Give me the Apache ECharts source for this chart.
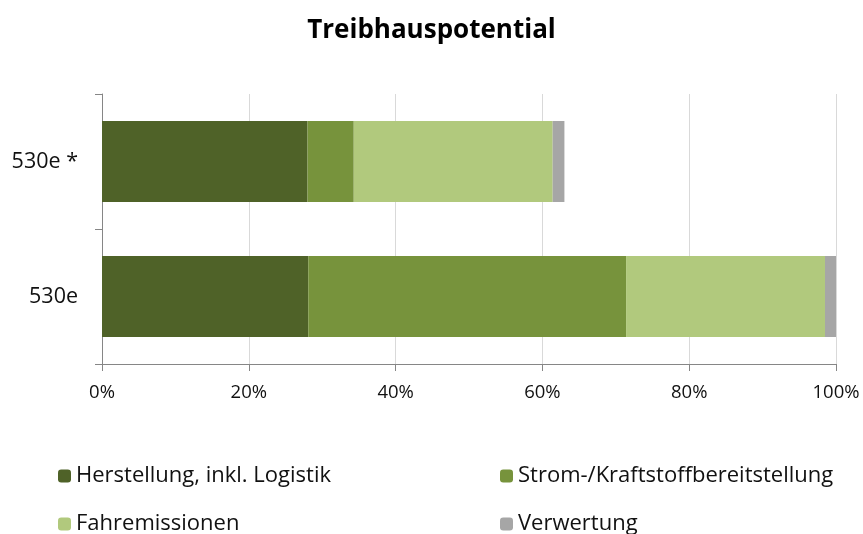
<!DOCTYPE html>
<html>
<head>
  <meta charset="utf-8">
  <script src="https://cdn.jsdelivr.net/npm/echarts@6/dist/echarts.min.js"></script>
  <style>
    html, body { margin: 0; padding: 0; background: #fff; }
    #main { width: 863px; height: 534px; }
  </style>
</head>
<body>
  <div id="main"></div>
  <script>
    // categories from bottom to top
    var categories = ['530e', '530e *'];
    var herstellung = [28.1, 28.0];
    var strom = [43.3, 6.3];
    var fahremissionen = [27.1, 27.1];
    var verwertung = [1.5, 1.6];
    var xTicks = [0, 20, 40, 60, 80, 100];

    var font = 'Open Sans';
    var chart = echarts.init(document.getElementById('main'));

    function bar(name, data, color) {
      return {
        name: name,
        type: 'bar',
        stack: 'total',
        barWidth: '60%',
        itemStyle: {color: color},
        emphasis: {disabled: true},
        data: data
      };
    }

    // one legend per item, laid out in two columns like the original
    function legendItem(name, left, top) {
      return {
        left: left,
        top: top,
        itemWidth: 13,
        itemHeight: 13,
        itemGap: 0,
        itemStyle: {borderWidth: 0},
        textStyle: {fontFamily: font, fontSize: 22, color: '#111'},
        data: [name]
      };
    }

    var option = {
      animation: false,
      title: {
        text: 'Treibhauspotential',
        left: 'center',
        top: 13,
        textStyle: {fontFamily: font, fontSize: 26, fontWeight: 'bold', color: '#000'}
      },
      legend: [
        legendItem('Herstellung, inkl. Logistik', 53, 460),
        legendItem('Strom-/Kraftstoffbereitstellung', 495, 460),
        legendItem('Fahremissionen', 53, 508),
        legendItem('Verwertung', 495, 508)
      ],
      grid: {left: 102, right: 27, top: 94, bottom: 170, containLabel: false},
      xAxis: {
        type: 'value',
        min: xTicks[0],
        max: xTicks[xTicks.length - 1],
        interval: xTicks[1] - xTicks[0],
        axisLine: {show: true, lineStyle: {color: '#868686'}},
        axisTick: {show: true, length: 7, lineStyle: {color: '#868686'}},
        splitLine: {show: true, lineStyle: {color: '#d9d9d9'}},
        axisLabel: {
          formatter: '{value}%',
          margin: 19,
          fontFamily: font,
          fontSize: 18.5,
          color: '#111'
        }
      },
      yAxis: {
        type: 'category',
        data: categories,
        axisLine: {show: true, lineStyle: {color: '#868686'}},
        axisTick: {show: true, length: 7, lineStyle: {color: '#868686'}},
        axisLabel: {margin: 24, fontFamily: font, fontSize: 21.5, color: '#111'}
      },
      series: [
        bar('Herstellung, inkl. Logistik', herstellung, '#4F6228'),
        bar('Strom-/Kraftstoffbereitstellung', strom, '#77933C'),
        bar('Fahremissionen', fahremissionen, '#B1C97D'),
        bar('Verwertung', verwertung, '#A6A6A6')
      ]
    };

    chart.setOption(option);
  </script>
</body>
</html>
